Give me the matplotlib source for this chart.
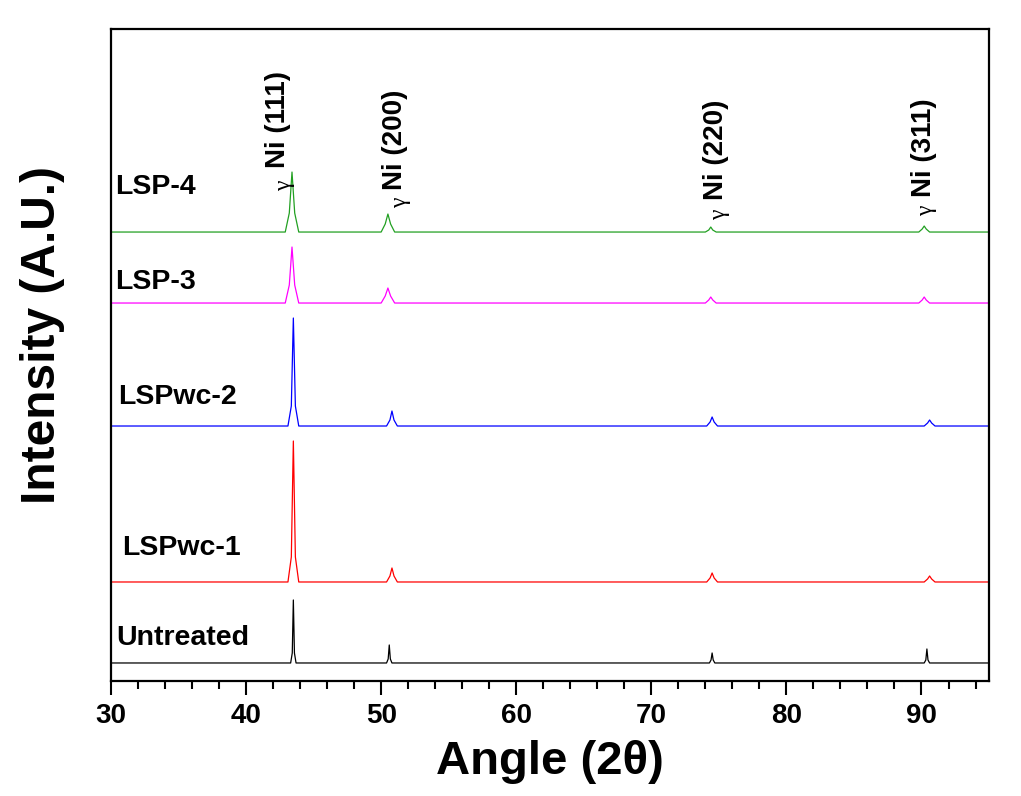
import matplotlib
matplotlib.use("Agg")
import matplotlib.pyplot as plt
from matplotlib.ticker import MultipleLocator

plt.rcParams['font.family'] = ['Liberation Sans', 'DejaVu Sans']

# ---- data (intensity above each curve's own baseline) ----
series_names = ["Untreated", "LSPwc-1", "LSPwc-2", "LSP-3", "LSP-4"]
series_colors = ["#000000", "#ff0000", "#0000ff", "#ff00ff", "#22a022"]
series_offsets = [18, 99, 255, 378, 449]

untreated_x = [30, 43.30, 43.42, 43.50, 43.58, 43.70, 50.40, 50.52, 50.60, 50.68, 50.80,
               74.30, 74.42, 74.50, 74.58, 74.70, 90.20, 90.32, 90.40, 90.48, 90.60, 95]
untreated_y = [0, 0, 10, 63, 10, 0, 0, 4, 18, 4, 0,
               0, 3, 10, 3, 0, 0, 3, 14, 3, 0, 0]

lspwc1_x = [30, 43.10, 43.35, 43.50, 43.65, 43.90, 50.40, 50.65, 50.80, 50.95, 51.20,
            74.10, 74.35, 74.50, 74.65, 74.90, 90.20, 90.45, 90.60, 90.75, 91.00, 95]
lspwc1_y = [0, 0, 25, 141, 25, 0, 0, 6, 14, 6, 0,
            0, 4, 9, 4, 0, 0, 3, 6, 3, 0, 0]

lspwc2_x = [30, 43.10, 43.35, 43.50, 43.65, 43.90, 50.40, 50.65, 50.80, 50.95, 51.20,
            74.10, 74.35, 74.50, 74.65, 74.90, 90.20, 90.45, 90.60, 90.75, 91.00, 95]
lspwc2_y = [0, 0, 20, 108, 20, 0, 0, 6, 15, 6, 0,
            0, 4, 9, 4, 0, 0, 3, 6, 3, 0, 0]

lsp3_x = [30, 42.90, 43.20, 43.40, 43.60, 43.90, 50.00, 50.30, 50.50, 50.70, 51.00,
          74.00, 74.25, 74.40, 74.55, 74.80, 89.80, 90.05, 90.20, 90.35, 90.60, 95]
lsp3_y = [0, 0, 18, 56, 18, 0, 0, 7, 15, 7, 0,
          0, 3, 6, 3, 0, 0, 3, 6, 3, 0, 0]

lsp4_x = [30, 42.90, 43.20, 43.40, 43.60, 43.90, 50.00, 50.30, 50.50, 50.70, 51.00,
          74.00, 74.25, 74.40, 74.55, 74.80, 89.80, 90.05, 90.20, 90.35, 90.60, 95]
lsp4_y = [0, 0, 19, 60, 19, 0, 0, 8, 18, 8, 0,
          0, 2, 5, 2, 0, 0, 3, 6, 3, 0, 0]

series_x = [untreated_x, lspwc1_x, lspwc2_x, lsp3_x, lsp4_x]
series_y = [untreated_y, lspwc1_y, lspwc2_y, lsp3_y, lsp4_y]

# sample label positions (x in degrees, y in plot units)
label_x = [30.4, 30.8, 30.5, 30.3, 30.3]
label_y = [43, 133, 284, 399, 494]

# peak annotations
peak_labels = ["Ni (111)", "Ni (200)", "Ni (220)", "Ni (311)"]
peak_label_x = [42.35, 51.0, 74.8, 90.2]
peak_label_y = [513, 491, 481, 484]
gamma_x = [42.85, 51.4, 75.05, 90.4]
gamma_y = [495, 478, 466, 470]

x_ticks = [30, 40, 50, 60, 70, 80, 90]

# ---- figure ----
fig = plt.figure(figsize=(10.21, 7.96), dpi=100)
ax = fig.add_axes([0.1087, 0.1445, 0.86, 0.819])

for xs, ys, off, c in zip(series_x, series_y, series_offsets, series_colors):
    ax.plot(xs, [v + off for v in ys], color=c, lw=0.9)

for name, lx, ly in zip(series_names, label_x, label_y):
    ax.text(lx, ly, name, fontsize=20.5, fontweight='bold', ha='left', va='center')

for t, px, py in zip(peak_labels, peak_label_x, peak_label_y):
    ax.text(px, py, t, rotation=90, fontsize=20, fontweight='bold',
            ha='center', va='bottom')
for gx, gy in zip(gamma_x, gamma_y):
    ax.text(gx, gy, "γ", rotation=90, fontsize=17, family='Liberation Serif',
            ha='center', va='center')

ax.set_xlim(30, 95)
ax.set_ylim(0, 652)
ax.set_xticks(x_ticks)
ax.xaxis.set_minor_locator(MultipleLocator(2))
ax.set_yticks([])
ax.tick_params(axis='x', which='major', direction='out', length=10, width=1.5,
               labelsize=20, pad=6)
ax.tick_params(axis='x', which='minor', direction='out', length=6, width=1.5)
for lab in ax.get_xticklabels():
    lab.set_fontweight('bold')
for s in ax.spines.values():
    s.set_linewidth(1.6)

ax.set_xlabel("Angle (2θ)", fontsize=34, fontweight='bold', labelpad=8)
ax.set_ylabel("Intensity (A.U.)", fontsize=34.5, fontweight='bold')
ax.yaxis.set_label_coords(-0.052, 0.531)

fig.savefig("out.png", dpi=100)
